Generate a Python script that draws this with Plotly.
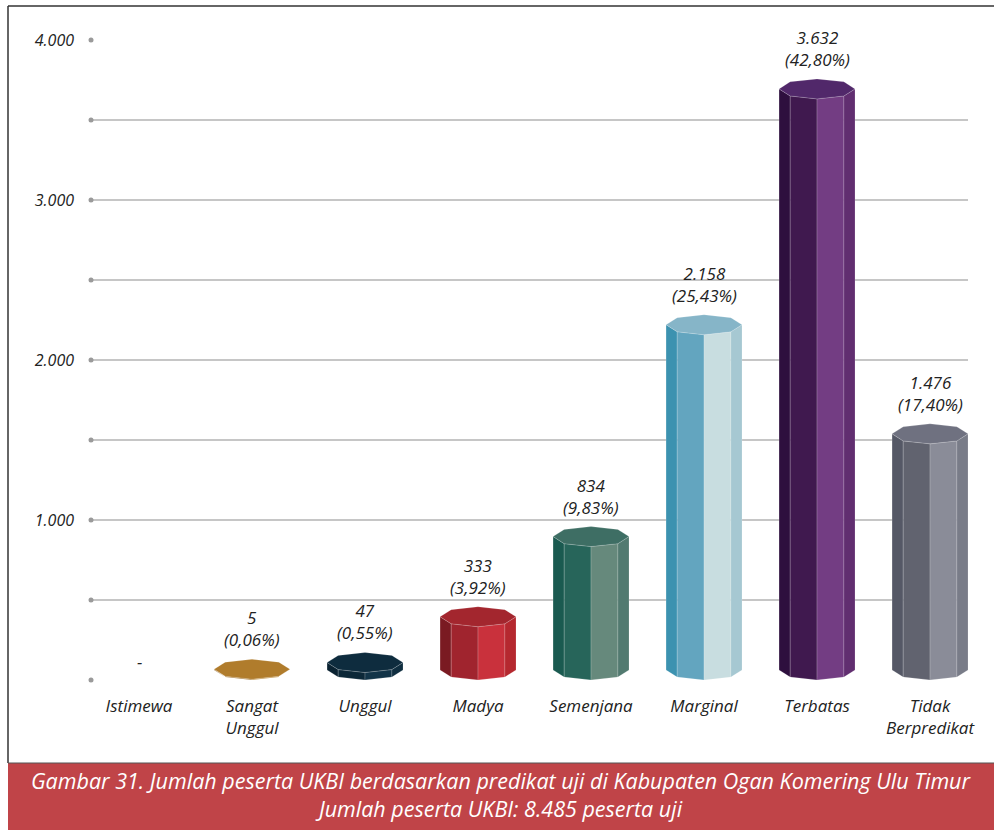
import math
import plotly.graph_objects as go

# ---------------- data ----------------
categories = ["Istimewa", "Sangat<br>Unggul", "Unggul", "Madya", "Semenjana",
              "Marginal", "Terbatas", "Tidak<br>Berpredikat"]
values = [0, 5, 47, 333, 834, 2158, 3632, 1476]
total = 8485
y_ticks = [0, 500, 1000, 1500, 2000, 2500, 3000, 3500, 4000]
y_ticktext = ["", "", "1.000", "", "2.000", "", "3.000", "", "4.000"]
caption1 = "Gambar 31. Jumlah peserta UKBI berdasarkan predikat uji di Kabupaten Ogan Komering Ulu Timur"
caption2 = "Jumlah peserta UKBI: 8.485 peserta uji"

# face colours: far-left, left, right, far-right, top
face_colors = [
    ["#cccccc", "#cccccc", "#cccccc", "#cccccc", "#cccccc"],
    ["#8a5e1e", "#9c6c24", "#b8852f", "#a77528", "#b07c2c"],
    ["#0a2231", "#0c2838", "#123448", "#0f2e40", "#0e2c3e"],
    ["#7a1a22", "#a0242e", "#c9313c", "#b5282f", "#a3262e"],
    ["#1a5a50", "#27655a", "#66897c", "#527a70", "#3e6e64"],
    ["#3c92b0", "#63a5bf", "#c8dde0", "#a6c8d2", "#86b5c8"],
    ["#2e0f3e", "#40194f", "#733d83", "#612e70", "#51286a"],
    ["#555866", "#61636f", "#8a8c98", "#797c88", "#6f7180"],
]

# ---------------- layout geometry ----------------
W, H = 994, 830
ML, MR, MT, MB = 91, 26, 40, 150
PW, PH = W - ML - MR, H - MT - MB
X_RANGE = [-0.425, 7.336]
Y_RANGE = [0, 4000]
FONT = "Open Sans"


def px_x(p):
    return (p - ML) / PW


def px_y(p):
    return (H - MB - p) / PH


half_w = 0.336          # half bar width in category units
depth = 62.5            # half depth of the octagon in value units

fig = go.Figure()

edge = dict(color="rgba(255,255,255,0.28)", width=0.6)

for i, v in enumerate(values):
    if v <= 0:
        continue
    cols = face_colors[i]
    yb = depth
    yt = v + depth

    def pt(ang, yc):
        a = math.radians(ang)
        return i + half_w * math.cos(a), yc + depth * math.sin(a)

    # side faces (front half of the octagon)
    pairs = [(180, 225), (225, 270), (270, 315), (315, 360)]
    for k, (a1, a2) in enumerate(pairs):
        p1 = pt(a1, yb); p2 = pt(a2, yb); p3 = pt(a2, yt); p4 = pt(a1, yt)
        fig.add_trace(go.Scatter(
            x=[p1[0], p2[0], p3[0], p4[0], p1[0]],
            y=[p1[1], p2[1], p3[1], p4[1], p1[1]],
            mode="lines", fill="toself", fillcolor=cols[k],
            line=edge, hoverinfo="skip", showlegend=False))
    # top face
    tx, ty = [], []
    for k in range(9):
        px_, py_ = pt(45 * k, yt)
        tx.append(px_); ty.append(py_)
    fig.add_trace(go.Scatter(
        x=tx, y=ty, mode="lines", fill="toself", fillcolor=cols[4],
        line=edge, hoverinfo="skip", showlegend=False))

# tick dots at the start of each gridline
fig.add_trace(go.Scatter(
    x=[X_RANGE[0]] * len(y_ticks), y=y_ticks, mode="markers",
    marker=dict(color="#9a9a9a", size=5), cliponaxis=False,
    hoverinfo="skip", showlegend=False))

label_font = dict(family=FONT, size=17, color="#222222", style="italic")

annotations = []
for i, v in enumerate(values):
    if v == 0:
        annotations.append(dict(x=i, y=0, xref="x", yref="y", text="-",
                                showarrow=False, yanchor="bottom", yshift=5,
                                font=label_font))
    else:
        pct = v / total * 100
        num = f"{v:,}".replace(",", ".")
        pct_s = f"{pct:.2f}".replace(".", ",")
        annotations.append(dict(x=i, y=v + 2 * depth, xref="x", yref="y",
                                text=f"{num}<br>({pct_s}%)",
                                showarrow=False, yanchor="bottom", yshift=6,
                                font=label_font))

cap_font = dict(family=FONT, size=21.5, color="#ffffff", style="italic")
annotations.append(dict(x=px_x(501), y=px_y(794), xref="paper", yref="paper",
                        text=caption1 + "<br>" + caption2, showarrow=False,
                        xanchor="center", yanchor="middle", align="center",
                        font=cap_font))

shapes = [
    # caption band
    dict(type="rect", xref="paper", yref="paper", x0=px_x(8), x1=px_x(995),
         y0=px_y(763), y1=px_y(831), fillcolor="#c04448",
         line=dict(width=0), layer="below"),
    # frame lines
    dict(type="line", xref="paper", yref="paper", x0=px_x(8), x1=px_x(995),
         y0=px_y(6), y1=px_y(6), line=dict(color="#333333", width=1.5)),
    dict(type="line", xref="paper", yref="paper", x0=px_x(8), x1=px_x(8),
         y0=px_y(6), y1=px_y(763), line=dict(color="#333333", width=1.5)),
    dict(type="line", xref="paper", yref="paper", x0=px_x(8), x1=px_x(995),
         y0=px_y(763), y1=px_y(763), line=dict(color="#555555", width=1.2)),
]

fig.update_layout(
    width=W, height=H,
    margin=dict(l=ML, r=MR, t=MT, b=MB),
    paper_bgcolor="white", plot_bgcolor="white",
    showlegend=False,
    annotations=annotations,
    shapes=shapes,
    xaxis=dict(range=X_RANGE, tickmode="array",
               tickvals=list(range(len(categories))), ticktext=categories,
               showgrid=False, zeroline=False, showline=False,
               tickfont=dict(family=FONT, size=17, color="#222222", style="italic"),
               ticks="", ticklabelstandoff=14, fixedrange=True),
    yaxis=dict(range=Y_RANGE, tickmode="array", tickvals=y_ticks,
               ticktext=y_ticktext, showgrid=True, gridcolor="#c6c6c6",
               gridwidth=1.5, zeroline=False, showline=False, ticks="",
               tickfont=dict(family=FONT, size=16, color="#222222", style="italic"),
               ticklabelstandoff=16, fixedrange=True),
)

fig.write_html("out.html")
